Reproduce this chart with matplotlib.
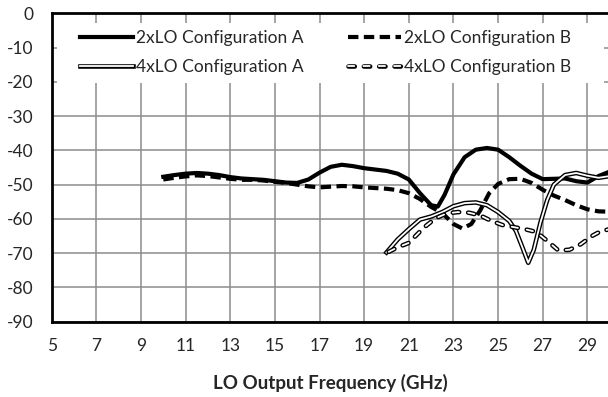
import matplotlib
matplotlib.use("Agg")
import matplotlib.pyplot as plt
import matplotlib.patheffects as pe
from matplotlib.patches import Rectangle

plt.rcParams['font.family'] = ['Lato', 'DejaVu Sans']
plt.rcParams['axes.unicode_minus'] = False

# 2xLO configuration A
a2_x = [10, 10.5, 11, 11.5, 12, 12.5, 13, 13.5, 14, 14.5, 15, 15.5, 16, 16.5, 17, 17.5, 18, 18.5,
        19, 19.5, 20, 20.5, 21, 21.5, 22, 22.3, 22.6, 23, 23.5, 24, 24.5, 25, 25.5, 26, 26.5, 27,
        27.5, 28, 28.5, 29, 29.5, 30]
a2_y = [-47.7, -47.2, -46.8, -46.6, -46.8, -47.2, -47.8, -48.2, -48.4, -48.6, -49.0, -49.4, -49.5,
        -48.5, -46.5, -44.8, -44.2, -44.6, -45.2, -45.6, -46.0, -46.8, -48.5, -52.5, -56.0, -56.4,
        -53.0, -47.0, -42.0, -39.8, -39.3, -39.8, -42.0, -44.5, -46.8, -48.4, -48.3, -48.2, -49.0,
        -49.4, -47.5, -46.2]

# 2xLO configuration B
b2_x = [10, 10.5, 11, 11.5, 12, 12.5, 13, 13.5, 14, 14.5, 15, 15.5, 16, 16.5, 17, 17.5, 18, 18.5,
        19, 19.5, 20, 20.5, 21, 21.5, 22, 22.5, 23, 23.4, 23.8, 24.2, 24.6, 25, 25.5, 26, 26.5, 27,
        27.5, 28, 28.5, 29, 29.5, 30]
b2_y = [-48.5, -48.0, -47.6, -47.3, -47.5, -47.9, -48.3, -48.6, -48.6, -48.8, -49.2, -49.5, -50.0,
        -50.5, -50.8, -50.6, -50.4, -50.5, -50.8, -51.0, -51.2, -51.6, -52.5, -54.2, -56.5, -58.3,
        -61.5, -62.8, -61.5, -57.5, -52.5, -49.8, -48.4, -48.3, -49.5, -51.5, -53.2, -54.5, -56.0,
        -57.2, -57.8, -57.9]

# 4xLO configuration A
a4_x = [20, 20.5, 21, 21.5, 22, 22.5, 23, 23.5, 24, 24.5, 25, 25.5, 25.8, 26.1, 26.35, 26.6, 26.9,
        27.2, 27.5, 28, 28.5, 29, 29.5, 30]
a4_y = [-69.8, -66.0, -63.0, -60.2, -59.3, -58.0, -56.3, -55.4, -55.2, -56.0, -58.0, -60.6, -63.5,
        -68.5, -72.8, -69.0, -61.0, -54.5, -50.0, -47.2, -46.6, -47.4, -48.0, -47.5]

# 4xLO configuration B
b4_x = [20.1, 20.5, 21, 21.3, 21.7, 22.2, 22.7, 23.2, 23.7, 24.2, 24.7, 25.2, 25.7, 26.2, 26.7,
        27.2, 27.7, 28.2, 28.7, 29.2, 29.6, 30]
b4_y = [-69.6, -68.3, -67.0, -65.0, -62.4, -59.8, -58.4, -58.0, -58.2, -59.0, -60.6, -61.8, -62.4,
        -63.0, -63.8, -66.4, -69.2, -69.0, -67.4, -65.0, -63.6, -63.0]

x_ticks = [5, 7, 9, 11, 13, 15, 17, 19, 21, 23, 25, 27, 29]
y_ticks = [0, -10, -20, -30, -40, -50, -60, -70, -80, -90]

W, H = 608, 397
fig = plt.figure(figsize=(W / 100, H / 100), dpi=100)
ax = fig.add_axes([51.7 / W, (H - 321.7) / H, 558.0 / W, 308.4 / H])

l_a2, = ax.plot(a2_x, a2_y, color='black', lw=3, solid_joinstyle='round',
                label='2xLO Configuration A')
l_b2, = ax.plot(b2_x, b2_y, color='black', lw=3, dashes=(2.5, 1.3),
                label='2xLO Configuration B')
l_a4, = ax.plot(a4_x, a4_y, color='white', lw=1.3, solid_joinstyle='round',
                path_effects=[pe.Stroke(linewidth=3.3, foreground='black'), pe.Normal()],
                label='4xLO Configuration A')
l_b4, = ax.plot(b4_x, b4_y, color='white', lw=1.3, dashes=(3.5, 5.0), dash_capstyle='round',
                path_effects=[pe.Stroke(linewidth=3.3, foreground='black'), pe.Normal()],
                label='4xLO Configuration B')

ax.set_xlim(5, 30)
ax.set_ylim(-90, 0)
ax.set_xticks(x_ticks)
ax.set_yticks(y_ticks)
ax.tick_params(length=0, labelsize=12.5, labelcolor='#262626')
ax.tick_params(axis='y', pad=13)
ax.tick_params(axis='x', pad=12)
ax.set_axisbelow(True)
ax.grid(True, color='#8c8c8c', lw=1.1)
for s in ax.spines.values():
    s.set_linewidth(2)
    s.set_color('black')
ax.spines['top'].set_zorder(3)

# white band behind the legend
ax.add_patch(Rectangle((5.24, -20.3), 24.5, 17.4, facecolor='white', edgecolor='none', zorder=1))

handles = [l_a2, l_a4, l_b2, l_b4]
fig.legend(handles=handles, labels=[h.get_label() for h in handles],
           loc='upper left', bbox_to_anchor=(80 / W, 1 - 30 / H), ncol=2, frameon=False,
           fontsize=12.5, handlelength=3.05, handletextpad=0.15, columnspacing=2.6,
           labelspacing=0.77, borderpad=0, borderaxespad=0, labelcolor='#262626')

fig.text(330 / W, 1 - 383 / H, 'LO Output Frequency (GHz)', ha='center', va='center',
         fontsize=13.5, fontweight='bold', color='#262626')
# title sits above the cropped top edge; only the bottom of the brackets shows
fig.text(505 / W, 1 + 3.5 / H, 'Harmonic Suppression (dB)', ha='right', va='baseline',
         fontsize=13, fontweight='bold', color='#262626')

fig.savefig('out.png', dpi=100)
